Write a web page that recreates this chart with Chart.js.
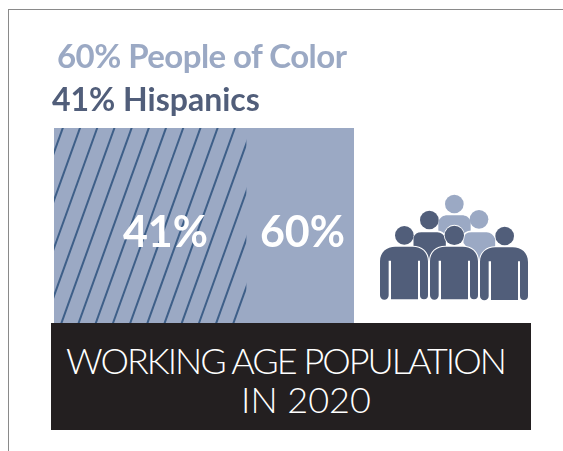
<!DOCTYPE html>
<html>
<head>
<meta charset="utf-8">
<title>Working age population in 2020</title>
<script src="https://cdn.jsdelivr.net/npm/chart.js@4/dist/chart.umd.min.js"></script>
<style>
  html, body { margin: 0; background: #fff; }
  #wrap { position: relative; width: 563px; height: 451px; overflow: hidden; font-family: Lato, sans-serif; }
  #wrap canvas { position: absolute; left: 0; top: 0; }
  .frame-top { position: absolute; left: 8px; top: 9px; right: 0; height: 1px; background: #8a8a8a; }
  .frame-left { position: absolute; left: 8px; top: 9px; bottom: 0; width: 1px; background: #8a8a8a; }
  .head { position: absolute; white-space: nowrap; font-weight: 700; line-height: 1; }
  #headPoc { left: 57px; top: 39px; font-size: 33px; color: #9BA9C4; letter-spacing: -0.55px; }
  #headHisp { left: 52px; top: 83px; font-size: 32px; color: #515E7A; }
  #caption { position: absolute; left: 51px; top: 323px; width: 480px; height: 107px; background: #231F20; color: #fff; font-weight: 300; font-size: 36px; line-height: 1; }
  #caption span { position: absolute; white-space: nowrap; }
  #capLine1 { left: 15px; top: 19px; letter-spacing: -2px; }
  #capLine2 { left: 190px; top: 58px; }
  #people { position: absolute; left: 370px; top: 180px; }
</style>
</head>
<body>
<div id="wrap">
  <canvas id="barChart" width="563" height="451"></canvas>
  <div class="frame-top"></div>
  <div class="frame-left"></div>
  <div class="head" id="headPoc">60% People of Color</div>
  <div class="head" id="headHisp">41% Hispanics</div>
  <div id="caption"><span id="capLine1">WORKING AGE POPULATION</span><span id="capLine2">IN 2020</span></div>

  <!-- crowd icon, drawn at 3x and scaled down -->
  <svg id="people" width="170" height="130" viewBox="0 0 510 390">
    <defs>
      <path id="torso" d="M0 44C0 16 20 0 46 0H98C124 0 144 16 144 44V146A12 12 0 0 1 120 146V42H114V158H33V42H26V146A12 12 0 0 1 0 146Z"/>
    </defs>
    <g fill="#9BA9C4">
      <circle cx="253" cy="72" r="28"/>
      <path d="M205 165V125C210 112 220 106 232 106H275C288 106 298 112 302 125V165Z"/>
      <circle cx="327" cy="118" r="28"/>
      <path d="M278 190V172C282 160 292 154 304 154H350C362 154 372 162 378 176V200L325 250Z" stroke="#fff" stroke-width="5"/>
    </g>
    <g fill="#515E7A">
      <circle cx="178" cy="120" r="28"/>
      <path d="M128 200V172C132 160 142 154 154 154H202C214 154 224 162 230 176V200L178 250Z" stroke="#fff" stroke-width="5"/>
      <circle cx="103" cy="166" r="28"/>
      <use href="#torso" x="30" y="200" stroke="#fff" stroke-width="6" paint-order="stroke"/>
      <use href="#torso" x="330" y="202" stroke="#fff" stroke-width="6" paint-order="stroke"/>
      <circle cx="404" cy="168" r="28"/>
      <use href="#torso" x="180" y="200" stroke="#fff" stroke-width="6" paint-order="stroke"/>
      <circle cx="253" cy="166" r="29" stroke="#fff" stroke-width="5" paint-order="stroke"/>
    </g>
  </svg>
</div>

<script>
// ── Data ──────────────────────────────────────────────────────────────────────
const categories = ['Working age population'];
const peopleOfColor = [60];
const hispanics = [41];

// Axis starts above zero so both bars keep the proportions of the layout
const AXIS_MIN = 7.2;
const AXIS_MAX = 60;

const BAR_COLOR = '#9BA9C4';

// ── Diagonal hatch for the Hispanics bar ──────────────────────────────────────
function makeHatch() {
  const tile = document.createElement('canvas');
  const gap = 17.2, lines = 10;
  tile.width = 172;
  tile.height = 478;
  const slope = tile.width / tile.height; // one full tile width per tile height, so it wraps
  const c = tile.getContext('2d');
  c.fillStyle = BAR_COLOR;
  c.fillRect(0, 0, tile.width, tile.height);
  c.strokeStyle = '#3E5F88';
  c.lineWidth = 2;
  const start = (80 + 128 * slope) % gap;
  for (let k = -1; k <= lines * 2 + 1; k++) {
    const x = start + k * gap;
    c.beginPath();
    c.moveTo(x, 0);
    c.lineTo(x - tile.height * slope, tile.height);
    c.stroke();
  }
  return document.getElementById('barChart').getContext('2d').createPattern(tile, 'repeat');
}

// ── Value labels, right-aligned in from the end of each bar ───────────────────
const valueLabels = {
  id: 'valueLabels',
  afterDatasetsDraw(chart) {
    const ctx = chart.ctx;
    ctx.save();
    ctx.fillStyle = '#fff';
    ctx.font = "700 43px Lato, sans-serif";
    ctx.textAlign = 'right';
    ctx.textBaseline = 'middle';
    chart.data.datasets.forEach((ds, i) => {
      const bar = chart.getDatasetMeta(i).data[0];
      ctx.fillText(ds.data[0] + '%', bar.x - ds.labelInset, bar.y + 8);
    });
    ctx.restore();
  }
};

// ── Chart ─────────────────────────────────────────────────────────────────────
new Chart(document.getElementById('barChart'), {
  type: 'bar',
  data: {
    labels: categories,
    datasets: [
      {
        label: 'People of Color',
        data: peopleOfColor,
        backgroundColor: BAR_COLOR,
        order: 2,
        labelInset: 9,
      },
      {
        label: 'Hispanics',
        data: hispanics,
        backgroundColor: makeHatch(),
        order: 1,
        labelInset: 38,
      }
    ]
  },
  options: {
    indexAxis: 'y',
    responsive: false,
    animation: false,
    layout: { padding: { left: 54, right: 209, top: 128, bottom: 128 } },
    datasets: { bar: { grouped: false, barPercentage: 1, categoryPercentage: 1, base: AXIS_MIN } },
    scales: {
      x: { display: false, min: AXIS_MIN, max: AXIS_MAX },
      y: { display: false }
    },
    plugins: {
      legend: { display: false },
      tooltip: { enabled: false }
    }
  },
  plugins: [valueLabels]
});
</script>
</body>
</html>
